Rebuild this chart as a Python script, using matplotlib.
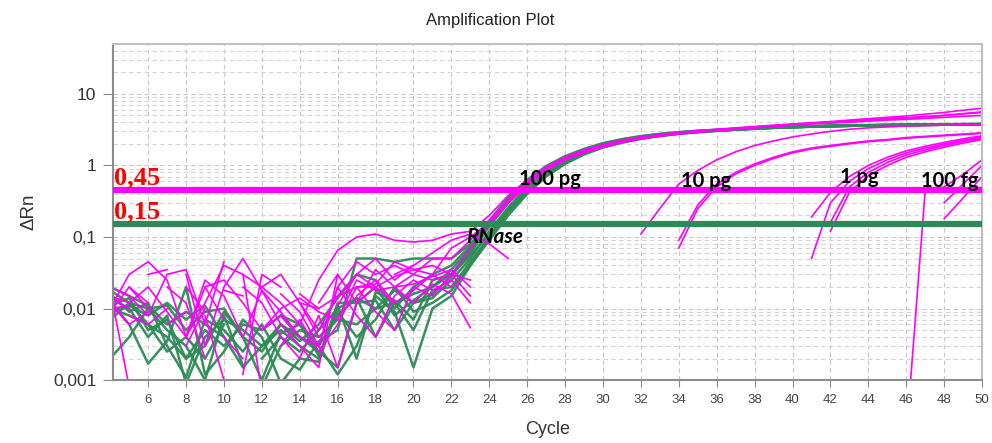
import numpy as np
import matplotlib
matplotlib.use("Agg")
import matplotlib.pyplot as plt
from matplotlib.ticker import FixedLocator, LogLocator, NullFormatter

n = np.nan

# cycles 4..21 (noise part) and 22..50 (amplification part)
early_cycles = list(range(4, 22))
late_cycles = list(range(22, 51))

# RNase P (green) – baseline noise, cycles 4..21
green_early = [
    [0.018, 0.012, 0.01, 0.011, 0.005, 0.009, 0.01, 0.004, 0.0025, 0.006, 0.004, 0.003, 0.008, 0.014, 0.01, 0.012, 0.016, 0.02],
    [0.01, 0.008, 0.006, 0.004, 0.002, 0.005, 0.003, 0.006, 0.005, 0.008, 0.004, 0.0025, 0.0015, 0.012, 0.013, 0.005, 0.012, 0.014],
    [0.014, 0.01, 0.004, 0.008, 0.0009, 0.004, 0.007, 0.005, 0.003, 0.005, 0.003, 0.002, 0.012, 0.012, 0.02, 0.008, 0.013, 0.02],
    [0.007, 0.012, 0.006, 0.0025, 0.004, 0.002, 0.006, n, 0.002, 0.004, 0.0025, 0.005, 0.01, 0.014, 0.004, 0.012, 0.005, 0.018],
    [0.002, 0.004, 0.01, 0.005, 0.003, 0.001, 0.008, 0.0016, n, 0.008, 0.006, 0.003, 0.0012, 0.003, 0.015, 0.009, 0.0015, 0.01],
    [0.02, 0.015, 0.011, 0.006, 0.009, 0.006, 0.004, n, 0.0008, 0.003, 0.005, 0.004, 0.007, 0.006, 0.01, 0.018, 0.012, 0.016],
    [0.012, 0.006, 0.0017, 0.0035, 0.02, 0.0012, 0.0025, 0.007, 0.004, 0.0009, 0.002, 0.0018, 0.011, 0.002, 0.017, 0.013, 0.007, 0.025],
    [0.009, 0.011, 0.008, 0.012, 0.007, 0.011, 0.004, 0.0015, 0.003, 0.006, 0.0035, 0.006, 0.014, 0.03, 0.025, 0.01, 0.02, 0.03],
    [0.016, 0.009, 0.012, 0.003, 0.0011, 0.007, 0.005, 0.0025, 0.006, 0.002, 0.0014, 0.0035, 0.005, 0.05, 0.05, 0.045, 0.05, 0.05],
    [0.011, 0.014, 0.005, 0.007, 0.002, 0.003, 0.009, 0.004, 0.001, 0.0045, 0.006, 0.0022, 0.009, 0.004, 0.007, 0.02, 0.009, 0.012],
]

# RNase P (green) – amplification, cycles 22..50
green_late = [
    [0.03, 0.06, 0.14, 0.3, 0.55, 0.88, 1.25, 1.6, 1.95, 2.25, 2.5, 2.7, 2.85, 3.0, 3.1, 3.2, 3.3, 3.4, 3.45, 3.5, 3.55, 3.6, 3.62, 3.65, 3.68, 3.7, 3.72, 3.74, 3.76],
    [0.025, 0.05, 0.12, 0.26, 0.5, 0.82, 1.18, 1.55, 1.9, 2.2, 2.45, 2.65, 2.82, 2.97, 3.08, 3.18, 3.28, 3.37, 3.43, 3.48, 3.53, 3.58, 3.61, 3.64, 3.67, 3.69, 3.71, 3.73, 3.75],
    [0.035, 0.07, 0.16, 0.34, 0.6, 0.95, 1.32, 1.68, 2.02, 2.3, 2.55, 2.74, 2.9, 3.04, 3.14, 3.24, 3.33, 3.42, 3.48, 3.53, 3.58, 3.62, 3.65, 3.68, 3.71, 3.73, 3.75, 3.77, 3.79],
    [0.02, 0.045, 0.1, 0.22, 0.42, 0.72, 1.08, 1.45, 1.8, 2.1, 2.38, 2.6, 2.78, 2.93, 3.05, 3.16, 3.26, 3.35, 3.42, 3.48, 3.53, 3.57, 3.6, 3.63, 3.66, 3.68, 3.7, 3.72, 3.74],
    [0.015, 0.04, 0.09, 0.2, 0.4, 0.7, 1.05, 1.42, 1.78, 2.08, 2.35, 2.58, 2.76, 2.92, 3.04, 3.15, 3.25, 3.34, 3.41, 3.47, 3.52, 3.57, 3.6, 3.63, 3.66, 3.68, 3.7, 3.72, 3.74],
    [0.028, 0.065, 0.15, 0.32, 0.58, 0.92, 1.28, 1.64, 1.98, 2.28, 2.52, 2.72, 2.88, 3.02, 3.12, 3.22, 3.32, 3.4, 3.47, 3.52, 3.57, 3.61, 3.64, 3.67, 3.7, 3.72, 3.74, 3.76, 3.78],
    [0.03, 0.055, 0.11, 0.24, 0.46, 0.78, 1.14, 1.5, 1.85, 2.15, 2.42, 2.63, 2.8, 2.95, 3.06, 3.17, 3.27, 3.36, 3.43, 3.49, 3.54, 3.58, 3.61, 3.64, 3.67, 3.69, 3.71, 3.73, 3.75],
    [0.04, 0.075, 0.17, 0.36, 0.63, 0.98, 1.35, 1.7, 2.05, 2.33, 2.57, 2.76, 2.92, 3.05, 3.15, 3.25, 3.35, 3.43, 3.5, 3.55, 3.6, 3.64, 3.67, 3.7, 3.73, 3.75, 3.77, 3.79, 3.81],
    [0.05, 0.08, 0.15, 0.31, 0.56, 0.9, 1.27, 1.62, 1.96, 2.26, 2.51, 2.71, 2.87, 3.01, 3.11, 3.21, 3.31, 3.39, 3.46, 3.51, 3.56, 3.6, 3.63, 3.66, 3.69, 3.71, 3.73, 3.75, 3.77],
    [0.018, 0.04, 0.1, 0.23, 0.44, 0.75, 1.1, 1.47, 1.82, 2.12, 2.4, 2.62, 2.79, 2.94, 3.06, 3.17, 3.27, 3.36, 3.43, 3.49, 3.54, 3.58, 3.61, 3.64, 3.67, 3.69, 3.71, 3.73, 3.75],
]

# dilution series (magenta) – baseline noise, cycles 4..21
# order: 100 pg x5, 10 pg x3, 1 pg x4, 100 fg x3
magenta_early = [
    [0.015, 0.012, 0.02, 0.009, 0.004, 0.012, 0.04, 0.03, 0.02, 0.012, 0.006, 0.025, 0.065, 0.1, 0.11, 0.09, 0.085, 0.09],
    [0.012, 0.006, 0.009, n, 0.03, 0.003, 0.02, 0.05, 0.018, 0.009, 0.004, 0.003, 0.02, 0.045, 0.03, 0.04, 0.03, 0.05],
    [0.02, 0.015, 0.008, 0.03, 0.035, 0.006, 0.045, n, 0.02, 0.03, 0.012, 0.005, 0.015, 0.02, 0.022, 0.045, 0.035, 0.04],
    [0.01, 0.03, 0.045, 0.025, 0.004, 0.025, 0.015, 0.004, 0.018, 0.006, 0.003, 0.0015, 0.03, 0.012, 0.02, 0.028, 0.035, 0.03],
    [0.018, 0.0008, n, 0.02, 0.012, 0.002, n, 0.03, 0.0007, n, 0.016, 0.01, 0.015, 0.03, 0.05, 0.025, 0.04, 0.06],
    [n, 0.008, 0.006, 0.01, n, 0.02, 0.025, 0.012, 0.005, 0.01, 0.014, 0.009, 0.007, 0.025, 0.018, 0.02, 0.03, 0.025],
    [0.009, 0.02, 0.01, n, 0.003, 0.01, n, 0.02, 0.012, 0.004, 0.002, 0.008, 0.0015, 0.012, 0.035, 0.02, 0.012, 0.022],
    [0.014, 0.01, n, 0.006, 0.009, n, 0.004, 0.002, n, 0.016, 0.009, 0.003, 0.02, 0.008, 0.004, 0.015, 0.025, 0.018],
    [n, n, 0.03, 0.035, n, 0.008, 0.001, n, 0.005, 0.008, 0.004, n, 0.011, 0.03, 0.02, 0.012, 0.018, 0.03],
    [0.013, 0.006, n, n, 0.004, 0.02, 0.007, n, n, 0.003, 0.007, 0.0025, 0.006, 0.02, 0.009, 0.005, 0.02, 0.015],
    [n, 0.02, 0.012, n, n, n, 0.018, 0.015, n, n, 0.012, 0.004, n, 0.015, 0.025, 0.012, n, n],
    [n, n, n, n, 0.02, 0.009, n, n, n, n, n, 0.012, 0.03, n, n, 0.03, 0.04, n],
    [n, n, n, n, n, n, n, 0.0012, 0.03, 0.02, n, n, n, 0.02, 0.02, n, n, n],
    [0.01, 0.011, n, n, n, n, n, n, n, n, n, n, n, n, n, 0.02, 0.022, 0.028],
    [n, n, n, n, n, n, n, n, n, n, 0.012, 0.01, n, n, n, n, n, n],
]

# dilution series (magenta) – cycles 22..50
magenta_late = [
    [0.11, 0.12, 0.2, 0.38, 0.62, 0.95, 1.3, 1.65, 1.95, 2.25, 2.5, 2.7, 2.9, 3.05, 3.2, 3.35, 3.5, 3.65, 3.8, 3.95, 4.1, 4.3, 4.5, 4.7, 4.9, 5.2, 5.5, 5.9, 6.3],
    [0.05, 0.09, 0.17, 0.33, 0.57, 0.9, 1.25, 1.6, 1.9, 2.2, 2.45, 2.65, 2.85, 3.0, 3.15, 3.3, 3.45, 3.6, 3.75, 3.9, 4.05, 4.2, 4.35, 4.5, 4.65, 4.8, 5.0, 5.3, 5.6],
    [0.03, 0.07, 0.15, 0.3, 0.52, 0.85, 1.2, 1.5, 1.8, 2.1, 2.35, 2.55, 2.75, 2.9, 3.05, 3.2, 3.35, 3.5, 3.65, 3.8, 3.9, 4.0, 4.15, 4.3, 4.4, 4.55, 4.7, 4.85, 5.0],
    [0.07, 0.1, 0.16, 0.31, 0.55, 0.88, 1.22, 1.55, 1.85, 2.15, 2.4, 2.6, 2.8, 2.95, 3.1, 3.25, 3.4, 3.55, 3.7, 3.85, 4.0, 4.15, 4.3, 4.45, 4.6, 4.8, 5.0, 5.25, 5.5],
    [0.09, 0.11, 0.08, 0.05, n, n, n, n, n, n, n, n, n, n, n, n, n, n, n, n, n, n, n, n, n, n, n, n, n],
    [0.03, 0.015, n, n, n, n, n, n, n, n, 0.11, 0.25, 0.55, 0.85, 1.2, 1.55, 1.9, 2.2, 2.5, 2.75, 3.0, 3.2, 3.35, 3.45, 3.55, 3.6, 3.65, 3.7, 3.75],
    [0.016, 0.0054, n, n, n, n, n, n, n, n, n, n, 0.09, 0.28, 0.55, 0.8, 1.05, 1.3, 1.55, 1.75, 1.9, 2.05, 2.2, 2.3, 2.45, 2.55, 2.65, 2.75, 2.85],
    [0.025, 0.012, n, n, n, n, n, n, n, n, n, n, 0.07, 0.25, 0.5, 0.76, 1.0, 1.25, 1.5, 1.7, 1.85, 2.0, 2.15, 2.25, 2.4, 2.5, 2.6, 2.7, 2.8],
    [0.02, n, n, n, n, n, n, n, n, n, n, n, n, n, n, n, n, n, n, 0.19, 0.42, 0.7, 1.0, 1.3, 1.6, 1.85, 2.1, 2.35, 2.6],
    [0.03, 0.025, n, n, n, n, n, n, n, n, n, n, n, n, n, n, n, n, n, 0.05, 0.3, 0.6, 0.9, 1.2, 1.5, 1.75, 2.0, 2.25, 2.5],
    [n, n, n, n, n, n, n, n, n, n, n, n, n, n, n, n, n, n, n, n, 0.16, 0.5, 0.8, 1.1, 1.4, 1.65, 1.9, 2.15, 2.4],
    [n, n, n, n, n, n, n, n, n, n, n, n, n, n, n, n, n, n, n, n, 0.12, 0.42, 0.72, 1.0, 1.3, 1.55, 1.8, 2.05, 2.3],
    [n, n, n, n, n, n, n, n, n, n, n, n, n, n, n, n, n, n, n, n, n, n, n, n, 0.00016, 0.45, 0.5, 0.75, 1.2],
    [0.035, 0.02, n, n, n, n, n, n, n, n, n, n, n, n, n, n, n, n, n, n, n, n, n, n, n, n, 0.3, 0.55, 1.0],
    [n, n, n, n, n, n, n, n, n, n, n, n, n, n, n, n, n, n, n, n, n, n, n, n, n, n, 0.18, 0.35, 0.7],
]

thresholds = [0.45, 0.15]
threshold_labels = ["0,45", "0,15"]
sample_labels = ["100 pg", "10 pg", "1 pg", "100 fg"]
sample_label_pos = [(27.2, 0.64), (35.45, 0.6), (43.5, 0.7), (48.3, 0.6)]

y_ticks = [0.001, 0.01, 0.1, 1, 10]
y_tick_labels = ["0,001", "0,01", "0,1", "1", "10"]
x_ticks = list(range(6, 51, 2))

MAGENTA = "#ff00ff"
GREEN = "#2e8b57"

cycles = early_cycles + late_cycles

fig = plt.figure(figsize=(9.92, 4.43), dpi=100)
ax = fig.add_axes([0.114, 0.142, 0.876, 0.759])
ax.set_yscale("log")

for e, l in zip(green_early, green_late):
    ax.plot(cycles, e + l, color=GREEN, lw=1.8, alpha=0.95)
for e, l in zip(magenta_early, magenta_late):
    ax.plot(cycles, e + l, color=MAGENTA, lw=1.2)

ax.axhline(thresholds[0], color=MAGENTA, lw=4.5, zorder=5)
ax.axhline(thresholds[1], color=GREEN, lw=4.5, zorder=5)

for t, lab in zip(thresholds, threshold_labels):
    ax.text(4.2, t * 1.04, lab, color="red", fontsize=19, fontweight="bold",
            family="Liberation Serif", va="bottom", ha="left", zorder=6)

for lab, (x, y) in zip(sample_labels, sample_label_pos):
    ax.text(x, y, lab, fontsize=14.5, fontweight="bold", family="Lato",
            ha="center", va="center", zorder=6)
ax.text(24.3, 0.1, "RNase", fontsize=15, fontweight="bold", style="italic",
        family="Lato", ha="center", va="center", zorder=6)

ax.set_xlim(4.15, 50)
ax.set_ylim(0.001, 50)

ax.xaxis.set_major_locator(FixedLocator(x_ticks))
ax.yaxis.set_major_locator(FixedLocator(y_ticks))
ax.set_yticklabels(y_tick_labels)
ax.yaxis.set_minor_locator(LogLocator(base=10, subs=np.arange(2, 10)))
ax.yaxis.set_minor_formatter(NullFormatter())
ax.tick_params(axis="y", which="minor", length=0)
ax.tick_params(axis="x", labelsize=9.5, labelcolor="#444444", color="#888888", length=5, pad=5)
ax.tick_params(axis="y", labelsize=12.5, labelcolor="#333333", color="#888888", length=7, pad=5)
for lab in ax.get_xticklabels() + ax.get_yticklabels():
    lab.set_family("Liberation Sans")

ax.grid(True, which="major", color="#c8c8c8", ls=(0, (4, 3)), lw=0.8)
ax.grid(True, which="minor", axis="y", color="#d4d4d4", ls=(0, (4, 3)), lw=0.8)
ax.set_axisbelow(True)

for side in ["left", "bottom"]:
    ax.spines[side].set_color("#8c8c8c")
    ax.spines[side].set_linewidth(1.5)
for side in ["top", "right"]:
    ax.spines[side].set_color("#c0c0c0")
    ax.spines[side].set_linewidth(1.5)

ax.set_xlabel("Cycle", fontsize=13, family="Liberation Sans", color="#333333", labelpad=11)
ax.set_ylabel("ΔRn", fontsize=13.5, family="Liberation Sans", color="#333333", labelpad=11)
fig.text(0.494, 0.953, "Amplification Plot", fontsize=12, family="Liberation Sans",
         ha="center", va="center", color="#222222")

fig.savefig("out.png", dpi=100)
